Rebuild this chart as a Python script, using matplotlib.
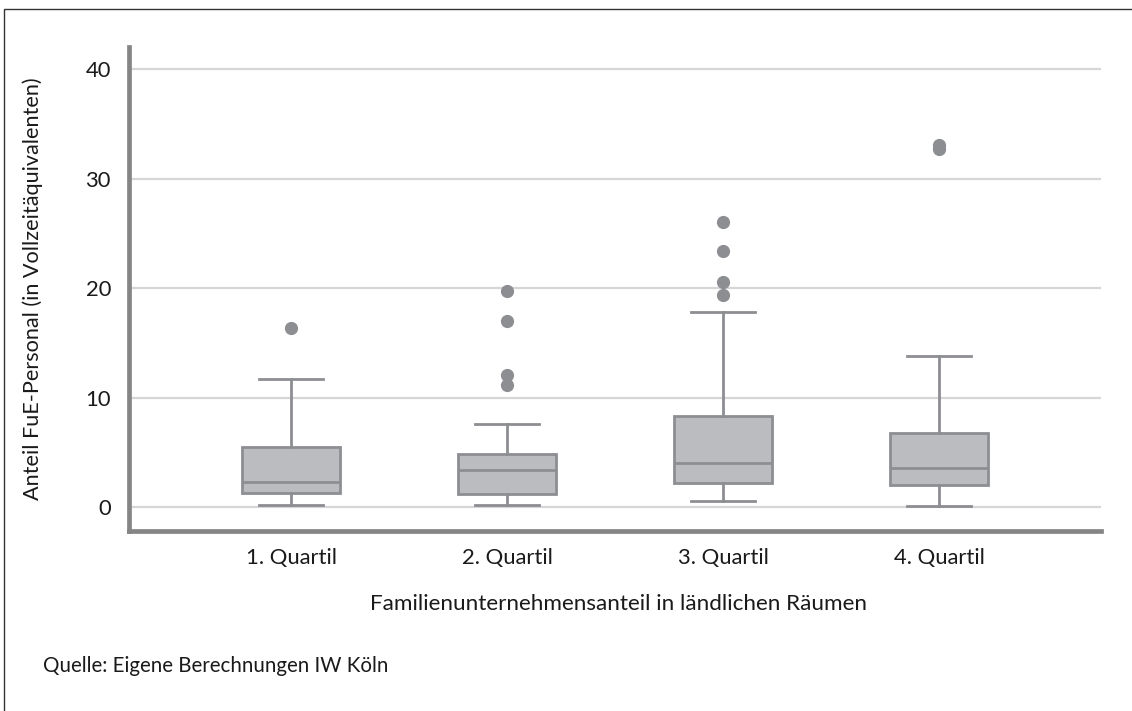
import matplotlib
matplotlib.use("Agg")
import matplotlib.pyplot as plt
from matplotlib.patches import Rectangle

# ---- data ----
categories = ["1. Quartil", "2. Quartil", "3. Quartil", "4. Quartil"]
whisker_low = [0.18, 0.25, 0.55, 0.12]
q1 = [1.28, 1.19, 2.19, 2.04]
median = [2.31, 3.41, 4.02, 3.56]
q3 = [5.54, 4.84, 8.34, 6.82]
whisker_high = [11.7, 7.64, 17.8, 13.8]
outliers = [
    [16.4],
    [19.7, 17.0, 12.1, 11.2],
    [26.05, 23.4, 20.6, 19.4],
    [33.1, 32.7],
]
y_ticks = [0, 10, 20, 30, 40]

x_label = "Familienunternehmensanteil in ländlichen Räumen"
y_label = "Anteil FuE-Personal (in Vollzeitäquivalenten)"
source = "Quelle: Eigene Berechnungen IW Köln"

# ---- style ----
FONT = "Lato"
plt.rcParams["font.family"] = [FONT, "DejaVu Sans"]
BOX_FILL = "#bbbcbf"
BOX_EDGE = "#8d8e92"
GRID = "#d6d6d6"
SPINE = "#858585"
TEXT = "#1a1a1a"

W, H = 1132, 711
fig = plt.figure(figsize=(W / 100, H / 100), dpi=100)
fig.patch.set_facecolor("white")

# outer frame
fig.add_artist(Rectangle((4 / W, -0.05), 1.2, 1 - 9 / H + 0.05, transform=fig.transFigure,
                         fill=False, edgecolor="#333333", linewidth=1.0))

ax = fig.add_axes([129 / W, 1 - 531 / H, (1101 - 129) / W, (531 - 47) / H])

stats = []
for i, cat in enumerate(categories):
    stats.append(dict(label=cat, whislo=whisker_low[i], q1=q1[i], med=median[i],
                      q3=q3[i], whishi=whisker_high[i], fliers=outliers[i]))

positions = list(range(1, len(categories) + 1))
ax.bxp(stats, positions=positions, widths=0.45, capwidths=0.30, patch_artist=True,
       showfliers=True,
       boxprops=dict(facecolor=BOX_FILL, edgecolor=BOX_EDGE, linewidth=2.0),
       medianprops=dict(color=BOX_EDGE, linewidth=2.0),
       whiskerprops=dict(color=BOX_EDGE, linewidth=2.0),
       capprops=dict(color=BOX_EDGE, linewidth=2.0),
       flierprops=dict(marker="o", markerfacecolor=BOX_EDGE, markeredgecolor=BOX_EDGE,
                       markersize=8.5, linestyle="none"),
       zorder=3)

ax.set_xlim(0.25, 4.75)
ax.set_ylim(-2.15, 42.0)
ax.set_yticks(y_ticks)
ax.set_xticks(positions)
ax.set_xticklabels(categories)

ax.yaxis.grid(True, color=GRID, linewidth=1.6, zorder=0)
ax.set_axisbelow(True)
ax.tick_params(axis="both", length=0, labelsize=15.8, colors=TEXT)
ax.tick_params(axis="y", pad=13)
ax.tick_params(axis="x", pad=12)

for s in ["top", "right"]:
    ax.spines[s].set_visible(False)
for s in ["left", "bottom"]:
    ax.spines[s].set_color(SPINE)
    ax.spines[s].set_linewidth(3.4)

fig.text(619 / W, 1 - 604 / H, x_label,
         ha="center", va="center", fontsize=16.2, color=TEXT)
fig.text(33 / W, 1 - 289 / H, y_label, rotation=90, ha="center", va="center",
         fontsize=15.6, color=TEXT)
fig.text(43 / W, 1 - 666 / H, source, ha="left", va="center", fontsize=14.8, color=TEXT)

fig.savefig("out.png", dpi=100)
